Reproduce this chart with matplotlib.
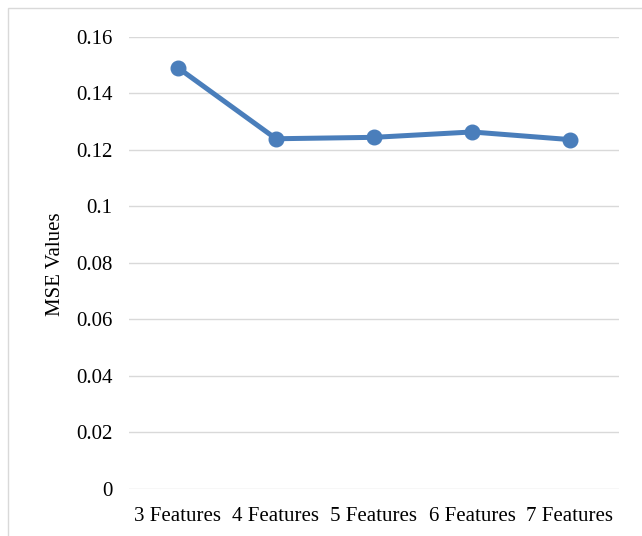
import matplotlib
matplotlib.use("Agg")
import matplotlib.pyplot as plt
from matplotlib.patches import Rectangle

categories = ["3 Features", "4 Features", "5 Features", "6 Features", "7 Features"]
mse_values = [0.1490, 0.1239, 0.1244, 0.1263, 0.1236]
y_ticks = [0, 0.02, 0.04, 0.06, 0.08, 0.1, 0.12, 0.14, 0.16]
y_tick_labels = ["0", "0.02", "0.04", "0.06", "0.08", "0.1", "0.12", "0.14", "0.16"]

plt.rcParams["font.family"] = ["Liberation Serif", "DejaVu Serif"]

fig = plt.figure(figsize=(6.42, 5.36), dpi=100)
fig.patch.set_facecolor("white")

# light chart-area border
fig.add_artist(Rectangle((8 / 642, -0.01), 1.2, (536 - 8) / 536 + 0.01,
                         transform=fig.transFigure, fill=False,
                         edgecolor="#d9d9d9", linewidth=1.0))

ax = fig.add_axes([129 / 642, 47 / 536, 490 / 642, (489 - 36.7) / 536])
x = list(range(len(categories)))
ax.plot(x, mse_values, color="#4a7ebb", linewidth=3.6, marker="o",
        markersize=10.5, solid_capstyle="round", solid_joinstyle="round",
        zorder=3)

ax.set_xlim(-0.5, len(categories) - 0.5)
ax.set_ylim(0, 0.16)
ax.set_yticks(y_ticks)
ax.set_yticklabels(y_tick_labels)
ax.set_xticks(x)
ax.set_xticklabels(categories)
ax.tick_params(axis="both", length=0, labelsize=15, colors="black")
ax.tick_params(axis="y", pad=12)
ax.tick_params(axis="x", pad=13)
ax.grid(axis="y", color="#d9d9d9", linewidth=1.0)
ax.set_axisbelow(True)
for side in ["top", "right", "left", "bottom"]:
    ax.spines[side].set_visible(False)

fig.text(55 / 642, (536 - 264) / 536, "MSE Values", rotation=90,
         ha="center", va="center", fontsize=15)

fig.savefig("out.png", dpi=100)
